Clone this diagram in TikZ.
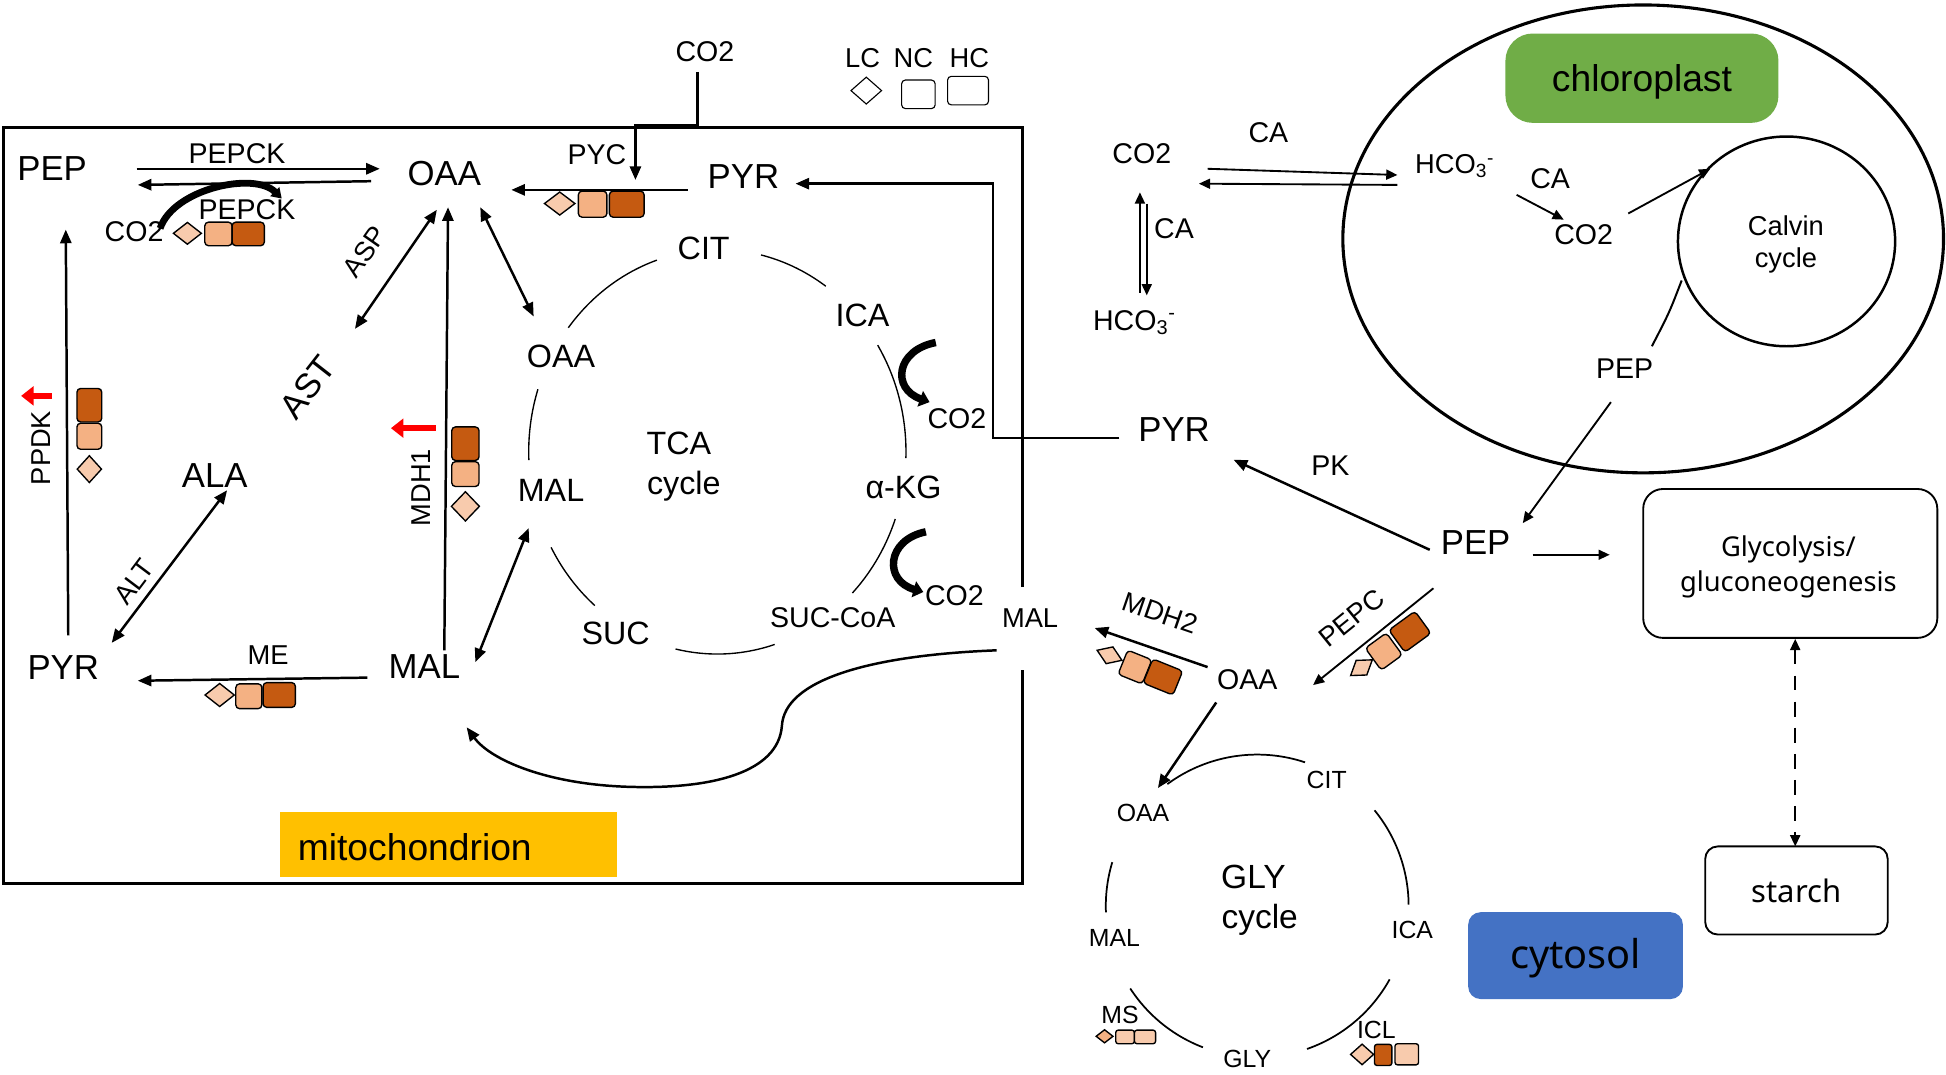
\documentclass[tikz,border=0pt]{standalone}
\usepackage{fontspec}
\setmainfont{Liberation Sans}
\newfontfamily\nsans{Noto Sans}
\usetikzlibrary{arrows.meta,shapes.geometric}
\definecolor{dkb}{HTML}{C55A11}
\definecolor{ltb}{HTML}{F4B183}
\definecolor{pal}{HTML}{F8CBAD}
\definecolor{grn}{HTML}{70AD47}
\definecolor{ylw}{HTML}{FFC000}
\definecolor{blu}{HTML}{4472C4}
\begin{document}
\begin{tikzpicture}[x=1pt,y=-1pt,
  lbl/.style={inner sep=0pt, outer sep=0pt},
  f30/.style={lbl, font=\fontsize{30}{32}\selectfont},
  f28/.style={lbl, font=\fontsize{28}{30}\selectfont},
  f26/.style={lbl, font=\fontsize{26}{28}\selectfont},
  f23/.style={lbl, font=\fontsize{23}{25}\selectfont},
  f22/.style={lbl, font=\fontsize{22}{24}\selectfont},
  f20/.style={lbl, font=\fontsize{20}{22}\selectfont},
  ar/.style={line width=2pt, -{Triangle[length=11pt,width=9pt]}},
  dar/.style={line width=2pt, {Triangle[length=11pt,width=9pt]}-{Triangle[length=11pt,width=9pt]}},
  tar/.style={line width=1.5pt, -{Triangle[length=9pt,width=8pt]}},
  cyc/.style={line width=1.1pt},
  sqr/.style 2 args={rectangle, draw=black, line width=1.1pt, rounded corners=3pt, inner sep=0pt, minimum width=#1, minimum height=#2},
  dmd/.style 2 args={diamond, draw=black, line width=1.1pt, inner sep=0pt, minimum width=#1, minimum height=#2},
  redar/.style={draw=red, line width=5pt, -{Triangle[length=10pt,width=15pt]}},
  bendar/.style={line width=6pt, -{Triangle[length=8pt,width=13pt]}}
]
\useasboundingbox (0,0) rectangle (1568,866);
\fill[white] (0,0) rectangle (1568,866);

% ---------------- mitochondrion box ----------------
\draw[line width=2.5pt] (824,473) -- (824,103) -- (3,103) -- (3,712) -- (824,712) -- (824,540);
\fill[ylw] (225.5,654) rectangle (497,706.5);
\node[f30, anchor=west] (mito) at (240,683) {mitochondrion};

% legend
\node[f22] (lc) at (695,47) {LC};
\node[f22] (nc) at (736,47) {NC};
\node[f22] (hc) at (781,47) {HC};
\node[dmd={25pt}{22pt}, fill=white, line width=0.9pt] (lcs) at (698,73) {};
\node[sqr={27pt}{23pt}, fill=white, line width=0.9pt] (ncs) at (740,76) {};
\node[sqr={33pt}{23pt}, fill=white, line width=0.9pt] (hcs) at (780,73) {};

% metabolites in mitochondrion
\node[f28] (pep1) at (42,136) {PEP};
\node[f28] (oaa1) at (358,140) {OAA};
\node[f28] (pyr1) at (599,142) {PYR};
\node[f23] (co2t) at (568,42) {CO2};
\node[f23] (pepcka) at (191,124) {PEPCK};
\node[f23] (pepckb) at (199,169) {PEPCK};
\node[f23] (co2a) at (108,187) {CO2};
\node[f23] (pyc) at (481,125) {PYC};
\node[f22, rotate=55] (asp) at (294,203) {ASP};
\node[f28, rotate=52] (ast) at (248,312) {AST};
\node[f28] (ala) at (173,383) {ALA};
\node[f28] (pyr2) at (51,538) {PYR};
\node[f28] (mal1) at (342,537) {MAL};
\node[f22, rotate=53] (alt) at (108,469) {ALT};
\node[f22] (me) at (216,528) {ME};
\node[f22, rotate=90] (ppdk) at (33,361) {PPDK};
\node[f22, rotate=90] (mdh1) at (339,393) {MDH1};

% TCA cycle
\node[f26] (cit1) at (567,200) {CIT};
\node[f26] (ica1) at (695,254) {ICA};
\node[f26] (oaa2) at (452,287) {OAA};
\node[f26] (mal2) at (444,395) {MAL};
\node[f26] (akg) at (728,393) {α-KG};
\node[f26] (suc) at (496,510) {SUC};
\node[f23] (succoa) at (671,498) {SUC-CoA};
\node[f26] (tca) at (547,357) {TCA};
\node[f26] (tcacyc) at (551,392) {cycle};
\node[f23] (co2b) at (771,337) {CO2};
\node[f23] (co2c) at (769,480) {CO2};

\draw[cyc] plot[domain=-108.7:-142.2, samples=30, smooth] ({578+152*cos(\x)},{364+163*sin(\x)});
\draw[cyc] plot[domain=-76.6:-54.9, samples=30, smooth] ({578+152*cos(\x)},{364+163*sin(\x)});
\draw[cyc] plot[domain=-31.8:1.8, samples=30, smooth] ({578+152*cos(\x)},{364+163*sin(\x)});
\draw[cyc] plot[domain=19.4:44.3, samples=30, smooth] ({578+152*cos(\x)},{364+163*sin(\x)});
\draw[cyc] plot[domain=72.3:102.8, samples=30, smooth] ({578+152*cos(\x)},{364+163*sin(\x)});
\draw[cyc] plot[domain=130.5:151.8, samples=30, smooth] ({578+152*cos(\x)},{364+163*sin(\x)});
\draw[cyc] plot[domain=177.6:198, samples=30, smooth] ({578+152*cos(\x)},{364+163*sin(\x)});

\draw[bendar] (754,276) .. controls (722,282) and (718,313) .. (749,324);
\draw[bendar] (746,428.5) .. controls (714,435) and (712,468) .. (744,477);

% enzyme symbols (mitochondrion)
\node[dmd={23pt}{18pt}, fill=pal] (s1a) at (151,188) {};
\node[sqr={22pt}{19pt}, fill=ltb] (s1b) at (176,188.5) {};
\node[sqr={26pt}{19pt}, fill=dkb] (s1c) at (200,188.5) {};
\node[dmd={25pt}{19pt}, fill=pal] (s2a) at (451,164) {};
\node[sqr={23pt}{21pt}, fill=ltb] (s2b) at (477.5,164.5) {};
\node[sqr={28pt}{21pt}, fill=dkb] (s2c) at (505,164.5) {};
\node[dmd={24pt}{19pt}, fill=pal] (s3a) at (177,560) {};
\node[sqr={21pt}{20pt}, fill=ltb] (s3b) at (200.5,561) {};
\node[sqr={26pt}{20pt}, fill=dkb] (s3c) at (225,560) {};
\node[sqr={20pt}{27pt}, fill=dkb] (s4c) at (72,326.5) {};
\node[sqr={20pt}{21pt}, fill=ltb] (s4b) at (72,351.5) {};
\node[dmd={20pt}{22pt}, fill=pal] (s4a) at (72,378) {};
\node[sqr={22pt}{27pt}, fill=dkb] (s5c) at (375,357.5) {};
\node[sqr={22pt}{20pt}, fill=ltb] (s5b) at (375,382) {};
\node[dmd={23pt}{24pt}, fill=pal] (s5a) at (375,408) {};

% connectors in mitochondrion
\draw[ar] (110,136) -- (306,136);
\draw[ar] (299,146) -- (111,149);
\draw[line width=5.5pt, -{Triangle[length=8pt,width=10pt]}] (129,184) .. controls (140,152) and (205,138) .. (227,160);
\draw[ar] (562,58) -- (562,101) -- (512,101) -- (512,145);
\draw[ar] (554,153) -- (412,153);
\draw[ar] (902,353) -- (800,353) -- (800,148) -- (641,148);
\draw[ar] (55,512) -- (53,185);
\draw[dar] (286,265) -- (352,169);
\draw[ar] (358,524) -- (361,167);
\draw[dar] (387,167) -- (430,255);
\draw[dar] (90,518) -- (183,395);
\draw[ar] (296,546) -- (111,548.5);
\draw[dar] (383,533.5) -- (426,425.5);
\draw[ar] (803,524) .. controls (700,528) and (632,548) .. (630,585) .. controls (627,622) and (575,636) .. (507,634) .. controls (440,632) and (395,612) .. (376,586);
\draw[redar] (42,319) -- (17,319);
\draw[redar] (351,345) -- (315,345);

% ---------------- chloroplast ----------------
\node[ellipse, draw, line width=2.5pt, inner sep=0pt, minimum width=484pt, minimum height=377pt] (chl) at (1324,192.5) {};
\node[ellipse, draw, line width=2pt, inner sep=0pt, minimum width=175pt, minimum height=169pt] (calv) at (1439.5,194.5) {};
\node[fill=grn, rounded corners=22pt, minimum width=220pt, minimum height=72pt, inner sep=0pt] (chlbox) at (1323,63) {};
\node[f30] (chlt) at (1323,66) {chloroplast};
\node[lbl, font=\fontsize{22}{26.5}\selectfont, align=center] (calvt) at (1439,197) {Calvin\\cycle};
\node[f22] (hco3b) at (1172,134) {HCO\textsubscript{3}\textsuperscript{-}};
\node[f23] (ca3) at (1249,144) {CA};
\node[f23] (co2ch) at (1276,189) {CO2};
\node[f23] (pepch) at (1309,297) {PEP};
\draw[tar] (1222,157) -- (1260,177);
\draw[tar] (1312,172) -- (1378,136);
\draw[line width=1.6pt] (1355,226) .. controls (1345,252) .. (1331,279);

% ---------------- cytosol ----------------
\node[f23] (co2r) at (920,124) {CO2};
\node[f23] (ca1) at (1022,107) {CA};
\node[f23] (ca2) at (946,184) {CA};
\node[f23] (hco3a) at (914,260) {HCO\textsubscript{3}\textsuperscript{-}};
\draw[tar] (973,136) -- (1126,141);
\draw[tar] (1126,149) -- (966,148);
\draw[tar] (918.5,236) -- (918.5,155);
\draw[tar] (924,164) -- (924,238);

\node[f28] (pyr3) at (946,346) {PYR};
\node[f23] (pk) at (1072,375) {PK};
\node[f28] (pep3) at (1189,437) {PEP};
\node[f22] (mal3) at (830,498) {MAL};
\node[f23] (oaa3) at (1005,548) {OAA};
\node[f22, rotate=-19] (mdh2) at (935,494) {MDH2};
\node[f22, rotate=39] (pepc) at (1089,498) {PEPC};

\draw[tar] (1298,324) -- (1227,421.5);
\draw[ar] (1152,443) -- (994,370.5);
\draw[tar] (1235,447) -- (1297,447);
\draw[tar] (1155,474) -- (1058,552);
\draw[ar] (973,537.5) -- (882,506);
\draw[ar] (980,566) -- (933,635);

\node[dmd={22pt}{15pt}, fill=pal, rotate=36] (s6a) at (1097,538) {};
\node[sqr={21pt}{22pt}, fill=ltb, rotate=36] (s6b) at (1115,525) {};
\node[sqr={26pt}{22pt}, fill=dkb, rotate=36] (s6c) at (1136,509) {};
\node[dmd={22pt}{15pt}, fill=pal, rotate=-22] (s7a) at (894,528) {};
\node[sqr={21pt}{21pt}, fill=ltb, rotate=-22] (s7b) at (914.5,537.5) {};
\node[sqr={26pt}{21pt}, fill=dkb, rotate=-22] (s7c) at (937,545.5) {};

% boxes
\node[draw, line width=1.5pt, rounded corners=16pt, minimum width=237pt, minimum height=120pt, inner sep=0pt] (glyc) at (1442.5,454) {};
\node[lbl, align=center, font=\nsans\fontsize{22}{28}\selectfont] (glyct) at (1441,457) {Glycolysis/\\gluconeogenesis};
\node[draw, line width=1.5pt, rounded corners=10pt, minimum width=147pt, minimum height=71pt, inner sep=0pt, font=\nsans\fontsize{25}{27}\selectfont] (starch) at (1447.5,717.5) {starch};
\node[fill=blu, rounded corners=10pt, minimum width=173pt, minimum height=70pt, inner sep=0pt] (cyto) at (1269.5,770) {};
\node[lbl, font=\nsans\fontsize{32}{34}\selectfont] (cytot) at (1269.5,772) {cytosol};
\draw[line width=1.6pt, dash pattern=on 12pt off 9pt, {Triangle[length=9pt,width=8pt]}-{Triangle[length=9pt,width=8pt]}] (glyc.south -| 1446.5,534) -- (1446.5,682);

% GLY cycle
\node[f20] (oaa4) at (921,655) {OAA};
\node[f20] (cit4) at (1069,628.5) {CIT};
\node[f20] (ica4) at (1138,749.5) {ICA};
\node[f20] (gly4) at (1005,853) {GLY};
\node[f20] (mal4) at (898,756) {MAL};
\node[lbl, font=\fontsize{27}{29}\selectfont] (glyt) at (1010,707) {GLY};
\node[lbl, font=\fontsize{27}{29}\selectfont] (glyc2) at (1015,741) {cycle};
\node[f20] (ms) at (902.5,818) {MS};
\node[f20] (icl) at (1109,830) {ICL};

\draw[cyc, line width=1.4pt] plot[domain=-71.6:-126.4, samples=30, smooth] ({1013+122*cos(\x)},{730+122*sin(\x)});
\draw[cyc, line width=1.4pt] plot[domain=-39.2:-0.5, samples=30, smooth] ({1013+122*cos(\x)},{730+122*sin(\x)});
\draw[cyc, line width=1.4pt] plot[domain=29:70.8, samples=30, smooth] ({1013+122*cos(\x)},{730+122*sin(\x)});
\draw[cyc, line width=1.4pt] plot[domain=111:147, samples=30, smooth] ({1013+122*cos(\x)},{730+122*sin(\x)});
\draw[cyc, line width=1.4pt] plot[domain=177.6:196.8, samples=30, smooth] ({1013+122*cos(\x)},{730+122*sin(\x)});

\node[dmd={14pt}{11pt}, fill=ltb] (s8a) at (890,835) {};
\node[sqr={15pt}{11pt}, fill=pal, rounded corners=2pt] (s8b) at (906.5,835.5) {};
\node[sqr={17pt}{11pt}, fill=pal, rounded corners=2pt] (s8c) at (922.6,835.5) {};
\node[dmd={19pt}{17pt}, fill=pal] (s9a) at (1097.5,849.6) {};
\node[sqr={14pt}{17pt}, fill=dkb, rounded corners=2pt] (s9b) at (1114.5,850) {};
\node[sqr={19pt}{17pt}, fill=pal, rounded corners=2pt] (s9c) at (1133.5,849.5) {};
\end{tikzpicture}
\end{document}
